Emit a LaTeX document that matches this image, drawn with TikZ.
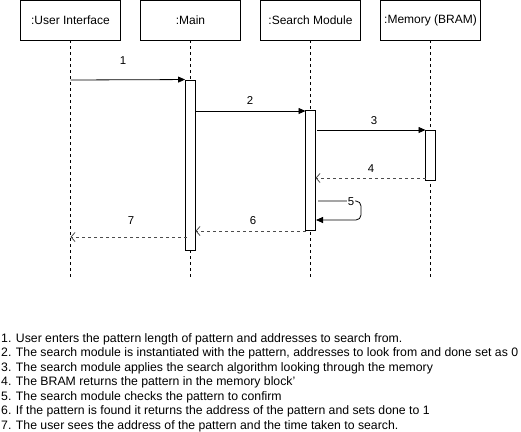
\documentclass[tikz,border=0pt]{standalone}
\usepackage{fontspec}
\setmainfont{Liberation Sans}
\usetikzlibrary{arrows.meta}
\newlength\notewd
\begin{document}
\settowidth\notewd{\fontsize{11}{13}\selectfont 2. The search module is instantiated with the pattern, addresses to look from and done set as 0}%
\pgfmathsetmacro\notefs{11*517/\notewd}%
\begin{tikzpicture}[x=1pt,y=-1pt,
  obj/.style={draw,line width=0.9pt,minimum width=100pt,minimum height=40pt,inner sep=0pt,font=\fontsize{12}{14}\selectfont},
  bar/.style={draw,line width=0.9pt,fill=white,minimum width=10pt,inner sep=0pt},
  life/.style={line width=0.8pt,dash pattern=on 3pt off 3pt},
  call/.style={line width=0.8pt,-{Triangle[length=7pt,width=6pt]}},
  ret/.style={line width=0.8pt,dash pattern=on 3pt off 3pt,gray!60!black,-{Straight Barb[length=4pt,width=9pt,line width=0.8pt]}},
  lbl/.style={font=\fontsize{11.4}{13}\selectfont,inner sep=0.5pt},
  note/.style={font=\fontsize{\notefs}{13}\selectfont,anchor=west,inner sep=0pt}]
\useasboundingbox (0,0) rectangle (521,431);
% objects
\node[obj] (ui)   at (70.5,20) {:User Interface};
\node[obj] (main) at (190.5,20) {:Main};
\node[obj] (sm)   at (310.5,20) {:Search Module};
\node[obj] (mem)  at (430.5,20) {:Memory (BRAM)};
% lifeline ends
\coordinate (uiE) at (70.5,277);
\coordinate (mainE) at (190.5,277);
\coordinate (smE) at (310.5,277);
\coordinate (memE) at (430.5,277);
\draw[life] (ui.south) -- (uiE);
\draw[life] (main.south) -- (mainE);
\draw[life] (sm.south) -- (smE);
\draw[life] (mem.south) -- (memE);
% activation bars
\node[bar,minimum height=170pt] (mainb) at (190.5,165) {};
\node[bar,minimum height=120pt] (smb) at (310.5,170) {};
\node[bar,minimum height=50pt] (memb) at (430.5,155) {};
% message anchor points
\coordinate (m1s) at (70.5,80);
\coordinate (m2s) at (196,111);
\coordinate (m2e) at (305.5,111);
\coordinate (m3s) at (317,130);
\coordinate (m3e) at (425.5,130);
\coordinate (m4s) at (425.5,178);
\coordinate (m4e) at (315.5,178);
\coordinate (m5s) at (318,201);
\coordinate (m5a) at (361,201);
\coordinate (m5b) at (361,220);
\coordinate (m5e) at (316,220);
\coordinate (m6s) at (305.5,231);
\coordinate (m6e) at (195.5,231);
\coordinate (m7s) at (187,237);
\coordinate (m7e) at (70.5,237);
% messages
\draw[call] (m1s) -- (mainb.north west);
\node[lbl] (l1) at (123,61) {1};
\draw[call] (m2s) -- (m2e);
\node[lbl] (l2) at (250,101) {2};
\draw[call] (m3s) -- (m3e);
\node[lbl] (l3) at (374,121) {3};
\draw[ret] (m4s) -- (m4e);
\node[lbl] (l4) at (371,169) {4};
\draw[call,rounded corners=5pt] (m5s) -- (m5a) -- (m5b) -- (m5e);
\node[lbl,fill=white] (l5) at (351,202) {5};
\draw[ret] (m6s) -- (m6e);
\node[lbl] (l6) at (253,221) {6};
\draw[ret] (m7s) -- (m7e);
\node[lbl] (l7) at (131,221) {7};
% notes
\node[note] (n1) at (1,339) {1. User enters the pattern length of pattern and addresses to search from.};
\node[note] (n2) at (1,353.5) {2. The search module is instantiated with the pattern, addresses to look from and done set as 0};
\node[note] (n3) at (1,368) {3. The search module applies the search algorithm looking through the memory};
\node[note] (n4) at (1,382.5) {4. The BRAM returns the pattern in the memory block'};
\node[note] (n5) at (1,397) {5. The search module checks the pattern to confirm};
\node[note] (n6) at (1,411.5) {6. If the pattern is found it returns the address of the pattern and sets done to 1};
\node[note] (n7) at (1,426) {7. The user sees the address of the pattern and the time taken to search.};
\end{tikzpicture}
\end{document}
